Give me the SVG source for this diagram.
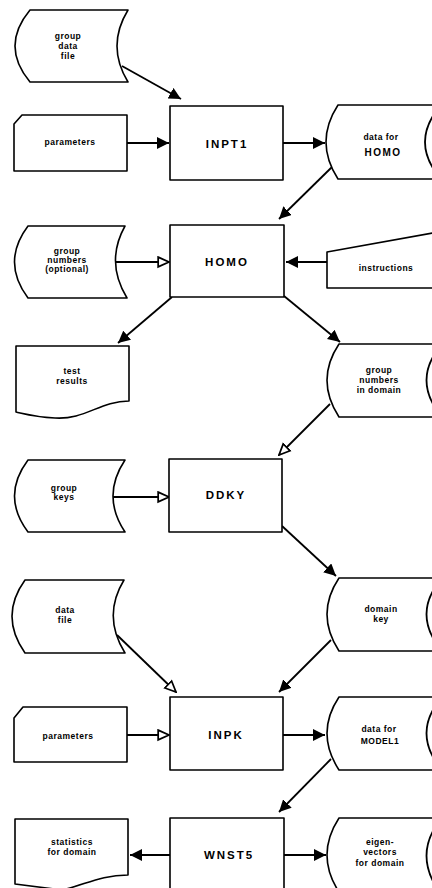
<svg xmlns="http://www.w3.org/2000/svg" width="432" height="888" viewBox="0 0 432 888">
<style>
.s{fill:#fff;stroke:#000;stroke-width:1.6;stroke-linejoin:round}
.c{fill:none;stroke:#000;stroke-width:1.8}
.t{font-family:"Liberation Sans",Arial,sans-serif;font-size:8.5px;font-weight:bold;letter-spacing:0.5px;text-anchor:middle;fill:#000}
.b{font-family:"Liberation Sans",Arial,sans-serif;font-size:11.5px;font-weight:bold;letter-spacing:2px;text-anchor:middle;fill:#000}
</style>
<defs>
<marker id="f" viewBox="0 0 10 10" refX="10" refY="5" markerUnits="userSpaceOnUse" markerWidth="12" markerHeight="12" orient="auto"><path d="M0,0 L10,5 L0,10 Z" fill="#000"/></marker>
<marker id="o" viewBox="-1 -1 12 12" refX="10" refY="5" markerUnits="userSpaceOnUse" markerWidth="13" markerHeight="13" orient="auto"><path d="M0,0.5 L10,5 L0,9.5 Z" fill="#fff" stroke="#000" stroke-width="1.6"/></marker>
</defs>
<g id="connectors">
<line class="c" x1="122" y1="66" x2="181" y2="99" marker-end="url(#f)"/>
<line class="c" x1="127" y1="143" x2="169" y2="143" marker-end="url(#f)"/>
<line class="c" x1="283" y1="143" x2="325" y2="143" marker-end="url(#f)"/>
<line class="c" x1="332" y1="167" x2="279" y2="219" marker-end="url(#f)"/>
<line class="c" x1="115" y1="262" x2="169" y2="262" marker-end="url(#o)"/>
<line class="c" x1="327" y1="262" x2="286" y2="262" marker-end="url(#f)"/>
<line class="c" x1="172" y1="297" x2="118" y2="343" marker-end="url(#f)"/>
<line class="c" x1="284" y1="296" x2="340" y2="342" marker-end="url(#f)"/>
<line class="c" x1="330" y1="404" x2="279" y2="455" marker-end="url(#o)"/>
<line class="c" x1="113" y1="497" x2="169" y2="497" marker-end="url(#o)"/>
<line class="c" x1="282" y1="526" x2="336" y2="576" marker-end="url(#f)"/>
<line class="c" x1="117" y1="635" x2="176" y2="692" marker-end="url(#o)"/>
<line class="c" x1="331" y1="640" x2="279" y2="692" marker-end="url(#f)"/>
<line class="c" x1="127" y1="735" x2="169" y2="735" marker-end="url(#o)"/>
<line class="c" x1="283" y1="735" x2="325" y2="735" marker-end="url(#f)"/>
<line class="c" x1="331" y1="759" x2="279" y2="812" marker-end="url(#f)"/>
<line class="c" x1="170" y1="855" x2="130" y2="855" marker-end="url(#f)"/>
<line class="c" x1="284" y1="855" x2="326" y2="855" marker-end="url(#f)"/>
</g>
<g id="group-data-file">
<path class="s" d="M30,10 L128,10 Q106,46 128,82 L30,82 Q0,46 30,10 Z"/>
<text class="t" x="68" y="39">group</text><text class="t" x="68" y="49">data</text><text class="t" x="68" y="59">file</text>
</g>
<g id="parameters-1">
<path class="s" d="M22,115 L127,115 L127,171 L14,171 L14,124 Z"/>
<text class="t" x="70" y="145">parameters</text>
</g>
<g id="INPT1">
<rect class="s" x="170" y="106" width="113" height="74"/>
<text class="b" x="227" y="148">INPT1</text>
</g>
<g id="data-for-HOMO">
<path class="s" d="M438,105 L338,105 Q314,142 338,179 L438,179"/>
<path class="c" d="M437,110 Q413,142 437,174"/>
<text class="t" x="381" y="140">data for</text><text class="b" x="383" y="156" style="font-size:10px;letter-spacing:1.5px">HOMO</text>
</g>
<g id="group-numbers-optional">
<path class="s" d="M28,226 L125,226 Q105,262 127,298 L28,298 Q1,262 28,226 Z"/>
<text class="t" x="67" y="254">group</text><text class="t" x="67" y="263">numbers</text><text class="t" x="67" y="272">(optional)</text>
</g>
<g id="HOMO">
<rect class="s" x="170" y="225" width="114" height="72"/>
<text class="b" x="227" y="266">HOMO</text>
</g>
<g id="instructions">
<path class="s" d="M438,232 L327,252 L327,288 L438,288"/>
<text class="t" x="386" y="271">instructions</text>
</g>
<g id="test-results">
<path class="s" d="M16,346 L129,346 L129,401 C100,401 85,420 55,418 C35,417 25,414 16,412 Z"/>
<text class="t" x="72" y="374">test</text><text class="t" x="72" y="384">results</text>
</g>
<g id="group-numbers-in-domain">
<path class="s" d="M438,344 L339,344 Q315,380 339,417 L438,417"/>
<path class="c" d="M438,349 Q415,380 438,412"/>
<text class="t" x="379" y="373">group</text><text class="t" x="379" y="383">numbers</text><text class="t" x="379" y="393">in domain</text>
</g>
<g id="group-keys">
<path class="s" d="M28,460 L125,460 Q101,496 125,532 L28,532 Q1,496 28,460 Z"/>
<text class="t" x="64" y="491">group</text><text class="t" x="64" y="500">keys</text>
</g>
<g id="DDKY">
<rect class="s" x="169" y="459" width="113" height="73"/>
<text class="b" x="226" y="499">DDKY</text>
</g>
<g id="domain-key">
<path class="s" d="M438,578 L339,578 Q315,614 339,651 L438,651"/>
<path class="c" d="M438,583 Q415,614 438,646"/>
<text class="t" x="381" y="612">domain</text><text class="t" x="381" y="622">key</text>
</g>
<g id="data-file">
<path class="s" d="M25,580 L124,580 Q102,616 125,653 L25,653 Q-1,616 25,580 Z"/>
<text class="t" x="65" y="613">data</text><text class="t" x="65" y="623">file</text>
</g>
<g id="parameters-2">
<path class="s" d="M23,707 L127,707 L127,762 L14,762 L14,718 Z"/>
<text class="t" x="68" y="739">parameters</text>
</g>
<g id="INPK">
<rect class="s" x="170" y="697" width="113" height="73"/>
<text class="b" x="226" y="739">INPK</text>
</g>
<g id="data-for-MODEL1">
<path class="s" d="M438,697 L339,697 Q315,733 339,770 L438,770"/>
<path class="c" d="M438,702 Q415,733 438,765"/>
<text class="t" x="379" y="732">data for</text><text class="t" x="380" y="744">MODEL1</text>
</g>
<g id="WNST5">
<rect class="s" x="170" y="818" width="114" height="80"/>
<text class="b" x="229" y="859">WNST5</text>
</g>
<g id="statistics-for-domain">
<path class="s" d="M15,819 L128,819 L128,875 C100,875 85,885 62,890 L15,884 Z"/>
<text class="t" x="72" y="845">statistics</text><text class="t" x="72" y="855">for domain</text>
</g>
<g id="eigenvectors-for-domain">
<path class="s" d="M438,818 L339,818 Q315,855 339,892"/>
<path class="c" d="M438,823 Q415,855 438,890"/>
<text class="t" x="380" y="845">eigen-</text><text class="t" x="380" y="855">vectors</text><text class="t" x="380" y="866">for domain</text>
</g>
</svg>
